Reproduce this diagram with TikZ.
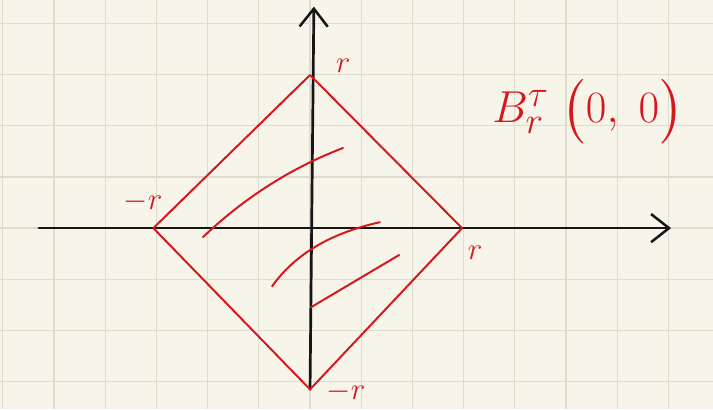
\documentclass[tikz,border=0pt]{standalone}
\usepackage{amsmath,amssymb}
\usepackage{xcolor}
\usepackage{tikz}
\usetikzlibrary{arrows.meta, positioning, calc}
\definecolor{paper}{RGB}{247, 245, 234}
\definecolor{gridgray}{RGB}{222, 220, 207}
\definecolor{inkred}{RGB}{214, 24, 30}
\definecolor{inkblack}{RGB}{22, 22, 22}

\begin{document}
\begin{tikzpicture}[x=0.5cm, y=0.5cm,
    gridline/.style={gridgray, line width=0.7pt},
    axisline/.style={inkblack, line width=1.5pt, line cap=round,
        -{Straight Barb[length=0.35cm, width=0.55cm, line width=1.4pt]}},
    redline/.style={inkred, line width=1.1pt, line cap=round, line join=round},
    redlabel/.style={inkred, inner sep=0pt, font=\fontsize{19}{21}\selectfont},
]
% paper and grid
\fill[paper] (-12.11,-7.07) rectangle (15.74,8.91);
\useasboundingbox (-12.11,-7.07) rectangle (15.74,8.91);
\draw[gridline] (-12.11,-7.07) grid (15.74,8.91);

% corners of the ball
\coordinate (left) at (-6.12,0);
\coordinate (top) at (0,5.98);
\coordinate (right) at (5.94,0);
\coordinate (bottom) at (0,-6.3);

% axes
\coordinate (xstart) at (-10.59,0);
\coordinate (xend) at (14.1,0);
\coordinate (yend) at (0.15,8.65);
\draw[axisline] (xstart) -- (xend);
\draw[axisline] (bottom) -- (yend);

% the diamond
\draw[redline] (left) -- (top) -- (right) -- (bottom) -- cycle;

% curves inside
\draw[redline] (-4.18,-0.35) .. controls (-2.55,1.20) and (-0.72,2.36) .. (1.29,3.13);
\draw[redline] (-1.48,-2.27) .. controls (-0.59,-1.02) and (0.81,-0.19) .. (2.73,0.23);
\draw[redline] (0.04,-3.09) -- (3.48,-1.05);

% labels
\node[redlabel] (lbltop) at (1.29,6.33) {$r$};
\node[redlabel] (lblleft) at (-6.52,1.02) {$-r$};
\node[redlabel] (lblright) at (6.45,-0.98) {$r$};
\node[redlabel] (lblbottom) at (1.41,-6.4) {$-r$};
\node[redlabel, font=\fontsize{30}{34}\selectfont] (lblball) at (10.86,4.55)
    {$B^{\tau}_{r}\;\bigl(0,\;0\bigr)$};
\end{tikzpicture}
\end{document}
